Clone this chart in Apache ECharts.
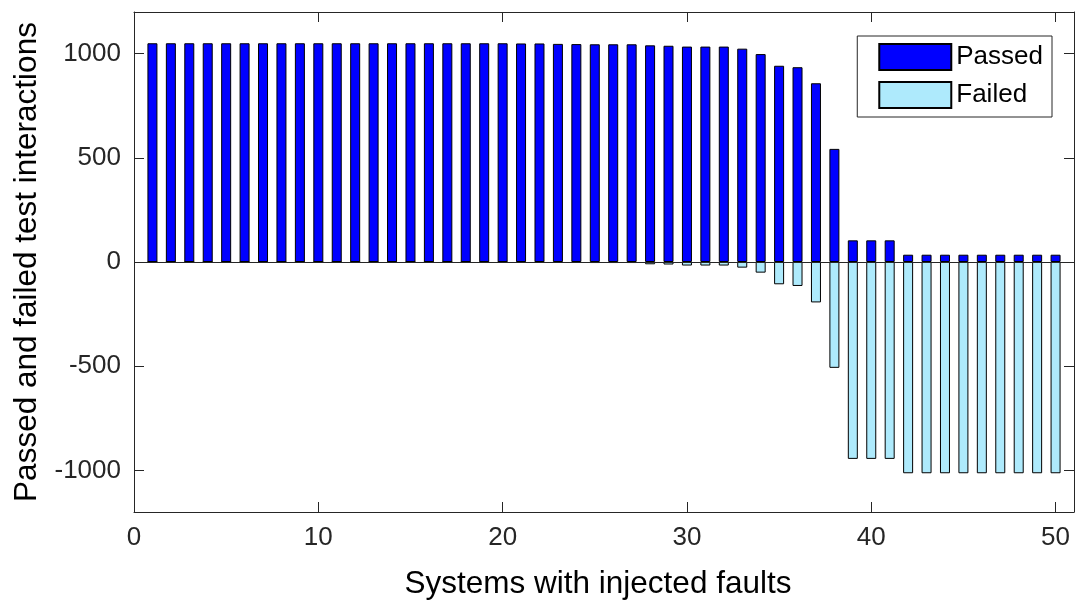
<!DOCTYPE html>
<html lang="en">
<head>
    <meta charset="UTF-8">
    <script src="https://cdn.jsdelivr.net/npm/echarts@6/dist/echarts.min.js"></script>
    <title>Passed and failed</title>
    <style>
        html, body {margin: 0; padding: 0; background: #fff;}
    </style>
</head>
<body>

<div id="ec" style="width:1075px;height:602px;"></div>

<script>
    // systems 1..50
    var systems = [];
    for (var i = 1; i <= 50; i++) systems.push(i);

    var passed = [1050, 1050, 1050, 1050, 1050, 1050, 1050, 1050, 1050, 1050,
        1050, 1050, 1050, 1050, 1050, 1050, 1050, 1050, 1050, 1050,
        1049, 1049, 1047, 1046, 1045, 1045, 1045, 1040, 1038, 1034,
        1034, 1034, 1024, 998, 942, 935, 858, 543, 104, 104,
        104, 35, 35, 35, 35, 35, 35, 35, 35, 35];

    var failed = [0, 0, 0, 0, 0, 0, 0, 0, 0, 0,
        0, 0, 0, 0, 0, 0, 0, 0, -1, -1,
        -2, -2, -3, -4, -5, -5, -5, -11, -12, -17,
        -17, -17, -27, -51, -107, -115, -194, -508, -945, -945,
        -945, -1014, -1014, -1014, -1014, -1014, -1014, -1014, -1014, -1014];

    var yTicks = [-1000, -500, 0, 500, 1000];

    function pairs(vals) {
        return systems.map(function (s, i) { return [s, vals[i]]; });
    }

    var font = 'Liberation Sans, Arial, sans-serif';
    var axisCol = '#262626';

    var myChart = echarts.init(document.getElementById('ec'));
    myChart.setOption({
        animation: false,
        textStyle: {fontFamily: font},
        grid: {left: 134, right: 1, top: 12, bottom: 90, outerBoundsMode: 'none', containLabel: false},
        legend: {
            right: 23,
            top: 36,
            orient: 'vertical',
            icon: 'rect',
            itemWidth: 72,
            itemHeight: 26,
            itemGap: 10,
            padding: [7, 9, 8, 21],
            borderColor: '#262626',
            borderWidth: 1,
            backgroundColor: '#fff',
            textStyle: {fontSize: 26, color: '#000', fontFamily: font},
            data: ['Passed', 'Failed']
        },
        xAxis: [{
            type: 'value',
            min: 0, max: 51, interval: 10,
            name: 'Systems with injected faults',
            nameLocation: 'middle',
            nameGap: 56,
            nameTextStyle: {fontSize: 31.5, color: '#000', padding: [0, 12, 0, 0]},
            axisLine: {onZero: false, lineStyle: {color: axisCol}},
            axisTick: {inside: true, length: 10, lineStyle: {color: axisCol}},
            axisLabel: {fontSize: 26, color: '#262626', margin: 13},
            splitLine: {show: false}
        }, {
            type: 'value', position: 'top',
            min: 0, max: 51, interval: 10,
            axisLine: {show: true, onZero: false, lineStyle: {color: axisCol}},
            axisTick: {inside: true, length: 10, lineStyle: {color: axisCol}},
            axisLabel: {show: false},
            splitLine: {show: false}
        }],
        yAxis: [{
            type: 'value',
            min: -1200, max: 1200,
            axisLabel: {
                fontSize: 26, color: '#262626', margin: 13, customValues: yTicks,
                formatter: function (v) { return String(v); }
            },
            axisTick: {inside: true, length: 10, lineStyle: {color: axisCol}, customValues: yTicks},
            axisLine: {show: true, onZero: false, lineStyle: {color: axisCol}},
            splitLine: {show: false},
            name: 'Passed and failed test interactions',
            nameLocation: 'middle',
            nameGap: 87,
            nameTextStyle: {fontSize: 31.5, color: '#000'}
        }, {
            type: 'value', position: 'right',
            min: -1200, max: 1200,
            axisLabel: {show: false},
            axisTick: {inside: true, length: 10, lineStyle: {color: axisCol}, customValues: yTicks},
            axisLine: {show: true, onZero: false, lineStyle: {color: axisCol}},
            splitLine: {show: false}
        }],
        series: [{
            name: 'Passed',
            type: 'bar',
            stack: 'all',
            barWidth: 10,
            data: pairs(passed),
            itemStyle: {color: '#0000ff', borderColor: '#000', borderWidth: 1},
            markLine: {
                silent: true,
                symbol: 'none',
                label: {show: false},
                lineStyle: {color: '#262626', width: 1, type: 'solid'},
                data: [{yAxis: 0}]
            }
        }, {
            name: 'Failed',
            type: 'bar',
            stack: 'all',
            barWidth: 10,
            data: pairs(failed),
            itemStyle: {color: '#aeeafc', borderColor: '#000', borderWidth: 1}
        }]
    });
</script>

</body>
</html>
